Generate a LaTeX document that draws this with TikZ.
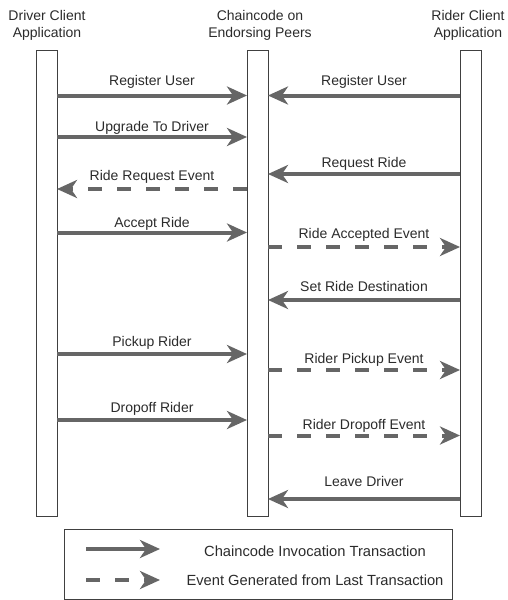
\documentclass[tikz,border=0pt]{standalone}
\usepackage{fontspec}
\setmainfont{Liberation Sans}
\usetikzlibrary{arrows.meta}

\definecolor{msgcol}{HTML}{666666}
\definecolor{txtcol}{HTML}{2B2B2B}

\tikzset{
  lane/.style={draw=black!75, fill=white, line width=0.8pt, inner sep=0pt, outer sep=0pt,
    minimum width=21pt, minimum height=466pt},
  call/.style={draw=msgcol, line width=4pt, -{Stealth[length=20pt, width=18pt, inset=6pt]}},
  evt/.style={call, dash pattern=on 14pt off 15pt},
  lbl/.style={text=txtcol, font=\fontsize{14}{17}\selectfont, inner sep=0pt, anchor=base},
  head/.style={lbl, align=center, anchor=north},
  keytext/.style={lbl, font=\fontsize{14.7}{17}\selectfont},
}

\begin{document}
\begin{tikzpicture}[x=1pt, y=-1pt]
        \useasboundingbox (0,0) rectangle (508,600);

        % headers
        \node[head] (h_drv) at (47,10) {Driver Client\\Application};
        \node[head] (h_cc) at (260,10) {Chaincode on\\Endorsing Peers};
        \node[head] (h_rdr) at (468,10) {Rider Client\\Application};

        % lifelines
        \node[lane] (drv) at (46.5,283) {};
        \node[lane] (cc) at (257.5,283) {};
        \node[lane] (rdr) at (470.5,283) {};

        % message rows
        \coordinate (r1) at (0,95.5);
        \coordinate (r2) at (0,137);
        \coordinate (r3) at (0,174);
        \coordinate (r4) at (0,189);
        \coordinate (r5) at (0,232.5);
        \coordinate (r6) at (0,247);
        \coordinate (r7) at (0,300);
        \coordinate (r8) at (0,354);
        \coordinate (r9) at (0,370);
        \coordinate (r10) at (0,420);
        \coordinate (r11) at (0,435.5);
        \coordinate (r12) at (0,499);

        \draw[call] (drv.east |- r1) -- (cc.west |- r1);
        \draw[call] (rdr.west |- r1) -- (cc.east |- r1);
        \draw[call] (drv.east |- r2) -- (cc.west |- r2);
        \draw[call] (rdr.west |- r3) -- (cc.east |- r3);
        \draw[evt] (cc.west |- r4) -- (drv.east |- r4);
        \draw[call] (drv.east |- r5) -- (cc.west |- r5);
        \draw[evt] (cc.east |- r6) -- (rdr.west |- r6);
        \draw[call] (rdr.west |- r7) -- (cc.east |- r7);
        \draw[call] (drv.east |- r8) -- (cc.west |- r8);
        \draw[evt] (cc.east |- r9) -- (rdr.west |- r9);
        \draw[call] (drv.east |- r10) -- (cc.west |- r10);
        \draw[evt] (cc.east |- r11) -- (rdr.west |- r11);
        \draw[call] (rdr.west |- r12) -- (cc.east |- r12);

        % labels
        \node[lbl] (t1) at (152,85) {Register User};
        \node[lbl] (t2) at (364,85) {Register User};
        \node[lbl] (t3) at (152,131) {Upgrade To Driver};
        \node[lbl] (t4) at (364,167) {Request Ride};
        \node[lbl] (t5) at (152,180.5) {Ride Request Event};
        \node[lbl] (t6) at (152,227) {Accept Ride};
        \node[lbl] (t7) at (364,238) {Ride Accepted Event};
        \node[lbl] (t8) at (364,291) {Set Ride Destination};
        \node[lbl] (t9) at (152,346.7) {Pickup Rider};
        \node[lbl] (t10) at (364,363) {Rider Pickup Event};
        \node[lbl] (t11) at (152,412.7) {Dropoff Rider};
        \node[lbl] (t12) at (364,429) {Rider Dropoff Event};
        \node[lbl] (t13) at (364,486.7) {Leave Driver};

        % legend
        \draw[black!75, line width=0.8pt] (64,529) rectangle (452,599);
        \coordinate (ls1) at (86,549);
        \coordinate (le1) at (160,549);
        \coordinate (ls2) at (86,580);
        \coordinate (le2) at (160,580);
        \draw[call] (ls1) -- (le1);
        \draw[evt] (ls2) -- (le2);
        \node[keytext] (k1) at (315,556) {Chaincode Invocation Transaction};
        \node[keytext] (k2) at (315,585) {Event Generated from Last Transaction};
\end{tikzpicture}
\end{document}
